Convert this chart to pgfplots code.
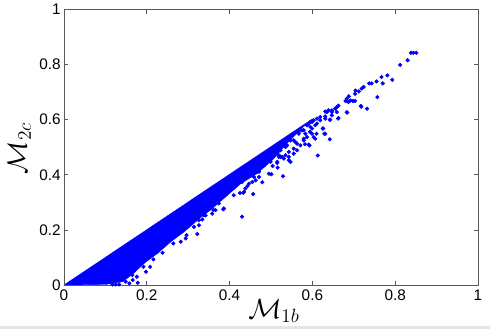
\documentclass[border=0pt]{standalone}
\usepackage{fontspec}
\setmainfont{Liberation Sans}
\usepackage{amsmath}
\usepackage{pgfplots}
\pgfplotsset{compat=1.18}
\definecolor{axisgray}{gray}{0.35}
\definecolor{stripgray}{gray}{0.9}
\begin{document}
\begin{tikzpicture}[x=0.75pt,y=0.75pt]
\useasboundingbox (-64,-44) rectangle (426,285);
\fill[stripgray] (-64,-44) rectangle (426,-41.5);
\begin{axis}[
  at={(0,0)}, anchor=south west,
  scale only axis, width=310.5pt, height=206.6pt,
  xmin=0, xmax=1, ymin=0, ymax=1,
  xtick={0,0.2,0.4,0.6,0.8,1},
  ytick={0,0.2,0.4,0.6,0.8,1},
  xticklabels={0,0.2,0.4,0.6,0.8,1},
  yticklabels={0,0.2,0.4,0.6,0.8,1},
  tick align=inside,
  major tick length=3pt,
  axis line style={axisgray,line width=0.7pt},
  tick style={axisgray,line width=0.5pt},
  ticklabel style={font=\fontsize{11.5}{13}\selectfont},
  yticklabel style={xshift=1pt},
  xlabel={\(\mathcal{M}_{1b}\)},
  ylabel={\(\mathcal{M}_{2c}\)},
  xlabel style={font=\fontsize{20}{24}\selectfont, at={(axis description cs:0.507,-0.094)}, anchor=center},
  ylabel style={font=\fontsize{20}{24}\selectfont, inner sep=0pt, at={(axis description cs:-0.108,0.496)}, anchor=center},
  axis on top=true,
  clip=false,
]
% dense body of the cloud, outline
\addplot[fill=blue, draw=blue, line width=0.3pt] coordinates {
  (0,0) (0.10,0.002) (0.142,0.012) (0.17,0.045) (0.194,0.079) (0.226,0.115)
  (0.258,0.157) (0.29,0.193) (0.33,0.245) (0.354,0.272) (0.386,0.314)
  (0.427,0.368) (0.467,0.405) (0.507,0.459) (0.539,0.515) (0.578,0.574)
  (0.6,0.603)
} -- cycle;
% stragglers
\addplot[only marks, mark=*, mark size=1.35pt, color=blue] coordinates {
  (.844,.843) (.838,.843) (.851,.843) (.830,.816) (.812,.799) (.781,.761)
  (.767,.755) (.793,.745) (.755,.739) (.770,.732) (.737,.732) (.743,.732)
  (.724,.719) (.719,.713) (.712,.703) (.704,.706) (.703,.694) (.757,.682)
  (.683,.676) (.680,.668) (.687,.664) (.698,.668) (.703,.668) (.718,.647)
  (.732,.640) (.683,.627) (.663,.651) (.655,.640) (.647,.634) (.639,.634)
  (.631,.630) (.659,.628) (.647,.616) (.631,.612) (.662,.604) (.611,.604)
  (.619,.598) (.642,.600) (.625,.568) (.629,.549) (.610,.549) (.642,.529)
  (.599,.549) (.613,.470) (.607,.531) (.593,.507) (.582,.511) (.547,.447)
  (.529,.395) (.457,.330) (.430,.248) (.515,.443) (.516,.426) (.504,.432)
  (.495,.404) (.501,.402) (.479,.373) (.463,.380) (.471,.392) (.443,.359)
  (.435,.338) (.425,.334) (.386,.278) (.366,.272) (.358,.259) (.342,.253)
  (.334,.238) (.543,.465) (.531,.459) (.523,.465) (.563,.489) (.555,.477)
  (.571,.507) (.579,.525) (.587,.537) (.595,.574) (.607,.580) (.599,.592)
  (.587,.580) (.575,.561) (.567,.549) (.555,.525)
  (.626,.568) (.631,.549) (.603,.537) (.594,.556) (.579,.531) (.591,.510)
  (.555,.495) (.563,.513) (.519,.471) (.503,.465) (.515,.447) (.499,.447)
  (.543,.483) (.583,.549) (.599,.568) (.611,.586) (.603,.598) (.619,.610)
  (.631,.604) (.643,.600) (.635,.628) (.647,.628) (.659,.646) (.663,.606)
  (.684,.626) (.682,.670) (.692,.670) (.688,.685) (.717,.650)
  (.555,.549) (.567,.556) (.547,.525) (.535,.501) (.523,.489) (.507,.483)
  (.579,.562) (.591,.586) (.595,.592) (.559,.519) (.539,.507) (.527,.465)
  (.433,.335) (.438,.350) (.455,.374) (.476,.441) (.385,.275) (.361,.272)
  (.338,.254) (.322,.242) (.410,.326) (.398,.344) (.430,.374) (.447,.368)
  (.459,.392) (.471,.411) (.487,.447) (.499,.471) (.519,.465) (.535,.471)
  (.543,.453) (.374,.296) (.354,.284)
  (.322,.185) (.296,.181) (.294,.169) (.282,.157) (.264,.151) (.238,.117)
  (.226,.121) (.216,.093) (.208,.066) (.198,.048) (.178,.008) (.166,.018)
  (.158,.006) (.149,.012) (.314,.211) (.326,.217) (.304,.226) (.338,.254)
  (.326,.235) (.298,.211) (.117,.002) (.125,.002) (.133,.002) (.176,.030)
  (.165,.036) (.192,.066)
};
\end{axis}
\end{tikzpicture}
\end{document}
